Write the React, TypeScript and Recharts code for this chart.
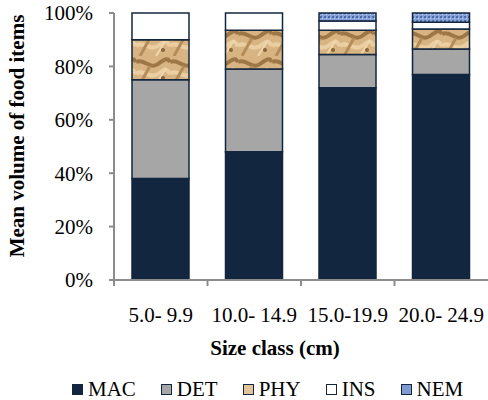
import { BarChart, Bar, XAxis, YAxis, Legend } from "recharts";

const sizeClasses = ["5.0- 9.9", "10.0- 14.9", "15.0-19.9", "20.0- 24.9"];
const mac = [38, 48, 72, 77];
const det = [37, 31, 12.5, 9.5];
const phy = [15, 14.5, 9, 7.5];
const ins = [10, 6.5, 3.5, 2.5];
const nem = [0, 0, 3, 3.5];
const yTicks = [0, 20, 40, 60, 80, 100];

const FONT = "'Liberation Serif', serif";
const NAVY = "#13263F";
const AXIS = "#8C8C8C";
const W = 488;
const H = 400;
const Y_AXIS_W = 114;

const data = sizeClasses.map((name, i) => ({
  name,
  MAC: mac[i],
  DET: det[i],
  PHY: phy[i],
  INS: ins[i],
  NEM: nem[i],
}));

const series = [
  { key: "MAC", fill: NAVY, swatch: NAVY },
  { key: "DET", fill: "#A6A6A6", swatch: "#A6A6A6" },
  { key: "PHY", fill: "url(#phyTex)", swatch: "#E2C39A" },
  { key: "INS", fill: "#FFFFFF", swatch: "#FFFFFF" },
  { key: "NEM", fill: "url(#nemTex)", swatch: "#7F9BD2" },
];

const band = (W - Y_AXIS_W) / sizeClasses.length;

function SizeTick(props: any) {
  const { x, y, payload } = props;
  return (
    <g>
      <line x1={x - band / 2} x2={x - band / 2} y1={y} y2={y + 6} stroke={AXIS} strokeWidth={2} />
      <text x={x} y={y + 42} textAnchor="middle" fontFamily={FONT} fontSize={21} fill="#000">
        {payload.value}
      </text>
    </g>
  );
}

function LegendRow() {
  return (
    <div
      style={{
        height: 30,
        display: "flex",
        alignItems: "flex-start",
        boxSizing: "border-box",
        paddingTop: 8,
        paddingLeft: 72,
        fontFamily: FONT,
        fontSize: 21,
        color: "#000",
        overflow: "hidden",
      }}
    >
      {series.map((s, i) => (
        <div
          key={s.key}
          style={{
            display: "flex",
            alignItems: "center",
            height: 22,
            lineHeight: "22px",
            marginRight: i === series.length - 1 ? 0 : 25,
          }}
        >
          <span
            style={{
              width: 9,
              height: 9,
              background: s.swatch,
              border: `1px solid ${NAVY}`,
              marginRight: 5,
              display: "inline-block",
            }}
          />
          <span>{s.key}</span>
        </div>
      ))}
    </div>
  );
}

export default function App() {
  return (
    <div style={{ position: "absolute", left: 0, top: 0, background: "#fff", fontFamily: FONT }}>
      <BarChart
        width={W}
        height={H}
        data={data}
        margin={{ top: 13, right: 0, bottom: 0, left: 0 }}
      >
        <defs>
          <pattern id="phyTex" width="34" height="28" patternUnits="userSpaceOnUse">
            <rect width="34" height="28" fill="#D7B482" />
            <path d="M0 6 C8 2 14 14 22 8 S32 2 34 6" stroke="#9E7748" strokeWidth="4" fill="none" />
            <path d="M0 18 C6 12 14 24 22 18 S30 12 34 18" stroke="#EBCFA2" strokeWidth="4" fill="none" />
            <path d="M4 28 L14 10" stroke="#B48C5A" strokeWidth="3" />
            <path d="M20 28 L30 12" stroke="#F0D6AC" strokeWidth="2" />
            <circle cx="27" cy="22" r="2" fill="#8A6438" />
          </pattern>
          <pattern id="nemTex" width="4" height="4" patternUnits="userSpaceOnUse">
            <rect width="4" height="4" fill="#86A2D8" />
            <rect width="2" height="2" fill="#4E6CA8" />
            <rect x="2" y="2" width="1" height="1" fill="#C5D3EE" />
          </pattern>
        </defs>
        <XAxis
          dataKey="name"
          height={90}
          tickLine={false}
          tickSize={0}
          tickMargin={0}
          axisLine={{ stroke: AXIS, strokeWidth: 2 }}
          tick={<SizeTick />}
          interval={0}
          label={{
            content: () => (
              <text
                x={275}
                y={355}
                textAnchor="middle"
                fontFamily={FONT}
                fontSize={21}
                fontWeight="bold"
                fill="#000"
              >
                Size class (cm)
              </text>
            ),
          }}
        />
        <YAxis
          width={Y_AXIS_W}
          domain={[0, 100]}
          ticks={yTicks}
          interval={0}
          tickFormatter={(v: number) => `${v}%`}
          tick={{ fontFamily: FONT, fontSize: 21, fill: "#000" }}
          tickSize={5}
          tickMargin={16}
          tickLine={{ stroke: AXIS, strokeWidth: 2 }}
          axisLine={{ stroke: AXIS, strokeWidth: 2 }}
          label={{
            content: () => (
              <text
                x={17}
                y={136}
                transform="rotate(-90, 17, 136)"
                textAnchor="middle"
                dominantBaseline="central"
                fontFamily={FONT}
                fontSize={21}
                fontWeight="bold"
                fill="#000"
              >
                Mean volume of food items
              </text>
            ),
          }}
        />
        <Legend
          verticalAlign="bottom"
          height={30}
          wrapperStyle={{ left: 0, width: W }}
          content={() => <LegendRow />}
        />
        {series.map((s) => (
          <Bar
            key={s.key}
            dataKey={s.key}
            stackId="food"
            fill={s.fill}
            stroke={NAVY}
            strokeWidth={1.5}
            barSize={57}
            isAnimationActive={false}
          />
        ))}
      </BarChart>
    </div>
  );
}
